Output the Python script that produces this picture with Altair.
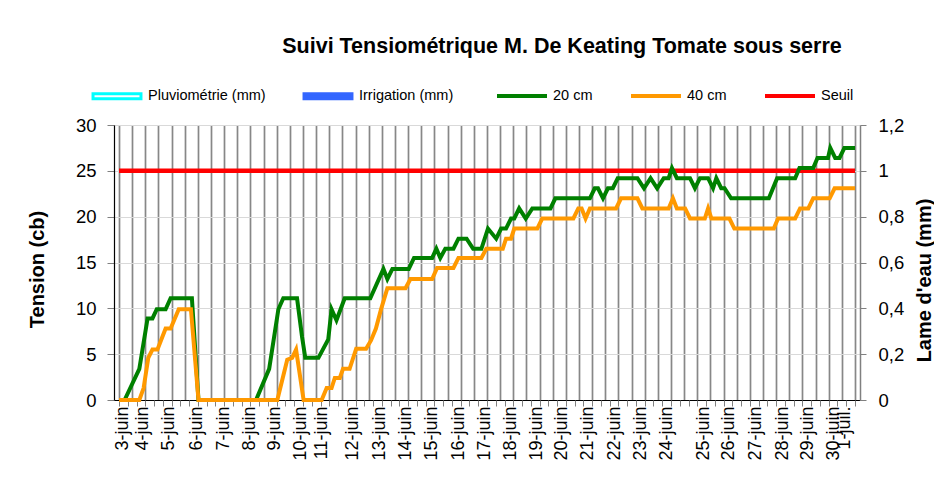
import json
import altair as alt
import pandas as pd

# ---- data (x = reading index along the category axis) ----
pos_20 = [0, 0.64, 2.32, 3.26, 3.82, 4.31, 5.32, 5.89, 8.32, 9.07, 15.64, 17.14, 18.19, 18.75,
          20.32, 20.89, 21.26, 22.76, 23.88, 24.26, 24.82, 25.76, 28.68, 30.18, 30.63, 31.2,
          33.07, 33.67, 35.74, 36.22, 36.67, 37.24, 38.17, 38.74, 39.67, 40.42, 41.36, 42.11,
          43.05, 43.61, 44.17, 44.74, 45.11, 45.67, 46.42, 47.17, 49.24, 49.8, 53.74, 54.3,
          54.67, 55.24, 55.8, 56.36, 56.92, 59.17, 59.92, 60.67, 61.42, 62.17, 62.73, 63.11,
          63.67, 65.17, 65.73, 66.3, 67.23, 67.8, 68.17, 68.73, 69.11, 69.86, 74.17, 75.11,
          77.17, 77.66, 79.23, 79.72, 80.92, 81.18, 81.74, 82.23, 82.79, 84]
tension_20 = [0, 0, 3.4, 8.9, 8.9, 9.9, 9.9, 11.1, 11.1, 0, 0, 3.4, 9.9, 11.1,
              11.1, 6.9, 4.6, 4.6, 6.6, 9.9, 8.7, 11.1, 11.1, 14.3, 13.2, 14.3,
              14.3, 15.5, 15.5, 16.5, 15.5, 16.5, 16.5, 17.6, 17.6, 16.5, 16.5, 18.7,
              17.6, 18.7, 18.7, 19.8, 19.8, 20.9, 19.8, 20.9, 20.9, 22.0, 22.0, 23.1,
              23.1, 22.0, 23.1, 23.1, 24.2, 24.2, 23.1, 24.2, 23.1, 24.2, 24.2, 25.3,
              24.2, 24.2, 23.1, 24.2, 24.2, 23.1, 24.2, 23.1, 23.1, 22.0, 22.0, 24.2,
              24.2, 25.3, 25.3, 26.4, 26.4, 27.5, 26.4, 26.4, 27.5, 27.5]

pos_40 = [0, 2.32, 2.81, 3.34, 3.82, 4.39, 5.32, 5.89, 6.82, 8.21, 9.07, 18.07, 19.2, 19.76,
          20.21, 21.07, 23.13, 23.7, 24.26, 24.63, 25.2, 25.57, 26.32, 27.07, 28.2, 28.76,
          29.32, 29.88, 30.63, 32.7, 33.26, 35.74, 36.3, 38.17, 38.74, 41.36, 41.92, 43.8,
          44.17, 44.74, 45.11, 47.74, 48.3, 51.86, 52.42, 52.8, 53.25, 53.74, 56.73, 57.3,
          59.17, 59.73, 62.73, 63.22, 63.67, 64.61, 65.17, 66.86, 67.23, 67.61, 69.67, 70.23,
          74.73, 75.22, 77.17, 77.73, 78.67, 79.23, 81.11, 81.67, 84]
tension_40 = [0, 0, 1.3, 4.6, 5.5, 5.5, 7.8, 7.8, 9.9, 9.9, 0, 0, 4.4, 4.6,
              5.5, 0, 0, 1.3, 1.3, 2.4, 2.4, 3.4, 3.4, 5.6, 5.6, 6.5,
              7.8, 9.8, 12.2, 12.2, 13.2, 13.2, 14.4, 14.4, 15.5, 15.5, 16.5, 16.5,
              17.6, 17.6, 18.7, 18.7, 19.8, 19.8, 20.9, 20.9, 19.8, 20.9, 20.9, 22.0,
              22.0, 20.9, 20.9, 22.0, 20.9, 20.9, 19.8, 19.8, 20.9, 19.8, 19.8, 18.7,
              18.7, 19.8, 19.8, 20.9, 20.9, 22.0, 22.0, 23.1, 23.1]

seuil_pos = [0, 84]
seuil_val = [25, 25]

date_labels = ["3-juin", "4-juin", "5-juin", "6-juin", "7-juin", "8-juin", "9-juin",
               "10-juin", "11-juin", "12-juin", "13-juin", "14-juin", "15-juin", "16-juin",
               "17-juin", "18-juin", "19-juin", "20-juin", "21-juin", "22-juin", "23-juin",
               "24-juin", "25-juin", "26-juin", "27-juin", "28-juin", "29-juin", "30-juin",
               "1-juil."]
date_pos = [0.4, 2.7, 5.7, 8.8, 11.9, 14.9, 17.8, 20.7, 23.1, 26.7, 29.7, 32.7, 35.7, 38.7,
            41.7, 44.7, 47.6, 50.5, 53.5, 56.5, 59.5, 62.5, 66.7, 69.6, 72.6, 75.7, 78.6,
            81.6, 82.8]

# rain / irrigation series: nothing recorded over the period
bar_series = ["Pluviométrie (mm)", "Irrigation (mm)"]
pluvio_pos, pluvio_mm = [], []
irrig_pos, irrig_mm = [], []

line_series = ["20 cm", "40 cm", "Seuil"]

# ---- tables ----
rows = []
for p, v in zip(pos_20, tension_20):
    rows.append({"pos": p, "tension": v, "serie": "20 cm"})
for p, v in zip(pos_40, tension_40):
    rows.append({"pos": p, "tension": v, "serie": "40 cm"})
for p, v in zip(seuil_pos, seuil_val):
    rows.append({"pos": p, "tension": v, "serie": "Seuil"})
lines_df = pd.DataFrame(rows)

bar_rows = []
for p, v in zip(pluvio_pos, pluvio_mm):
    bar_rows.append({"pos": p, "mm": v, "serie": bar_series[0]})
for p, v in zip(irrig_pos, irrig_mm):
    bar_rows.append({"pos": p, "mm": v, "serie": bar_series[1]})

FONT = "Liberation Sans"
N_CAT = 84

xscale = alt.Scale(domain=[0, N_CAT], nice=False, zero=False)
yscale = alt.Scale(domain=[0, 30], nice=False)
color_scale = alt.Scale(domain=line_series, range=["#008000", "#FF9900", "#FF0000"])

line_legend = alt.Legend(
    title=None, orient="none", legendX=381, legendY=-56, direction="horizontal",
    symbolType="stroke", symbolSize=2500, symbolStrokeWidth=4,
    labelFont=FONT, labelFontSize=14.5, labelColor="black",
    columnPadding=30, gridAlign="all", labelOffset=4,
)

label_expr = (json.dumps(date_labels, ensure_ascii=False) + "[indexof("
              + json.dumps(date_pos) + ", datum.value)]")

# grid axis (vertical gridlines)
grid_axis = alt.Axis(orient="bottom", values=[i * 1.5 for i in range(57)], grid=True,
                     gridColor="#878787", gridWidth=1.7, labels=False, ticks=False,
                     domain=False, title=None)
# label axis
label_axis = alt.Axis(orient="bottom", values=date_pos, labelExpr=label_expr, labelAngle=270,
                      labelFont=FONT, labelFontSize=18, labelColor="black", labelOverlap=False,
                      labelFlush=False, labelPadding=6, ticks=False, grid=False,
                      domain=True, domainColor="black", domainWidth=1.2, title=None)
# tick axis
tick_axis = alt.Axis(orient="bottom", values=list(range(N_CAT + 1)), ticks=True, tickSize=6,
                     tickColor="#808080", labels=False, grid=False, domain=False, title=None)

left_axis = alt.Axis(orient="left", values=[0, 5, 10, 15, 20, 25, 30], title="Tension (cb)",
                     titleFont=FONT, titleFontSize=20, titleFontWeight="bold", titleColor="black",
                     titlePadding=28, titleY=144, labelFont=FONT, labelFontSize=18.5,
                     labelColor="black", labelPadding=11, tickSize=7, tickColor="#808080",
                     domainColor="black", domainWidth=1.2, grid=True, gridColor="#D9D9D9",
                     gridWidth=1)

right_axis = alt.Axis(orient="right", values=[0, 0.2, 0.4, 0.6, 0.8, 1.0, 1.2],
                      labelExpr="replace(format(datum.value, '~g'), '.', ',')",
                      title="Lame d'eau (mm)", titleFont=FONT, titleFontSize=20,
                      titleFontWeight="bold", titleColor="black", titleAngle=270,
                      titlePadding=31, titleY=155, labelFont=FONT, labelFontSize=18.5,
                      labelColor="black", labelPadding=12, tickSize=6, tickColor="#808080",
                      domainColor="#808080", domainWidth=1.5, grid=False)

base = alt.Chart(lines_df)

seuil_layer = base.transform_filter(alt.datum.serie == "Seuil").mark_line(strokeWidth=4.5).encode(
    x=alt.X("pos:Q", scale=xscale, axis=grid_axis),
    y=alt.Y("tension:Q", scale=yscale, axis=left_axis),
    color=alt.Color("serie:N", scale=color_scale, legend=line_legend),
)

probe_layer = base.transform_filter(alt.datum.serie != "Seuil").mark_line(strokeWidth=4).encode(
    x=alt.X("pos:Q", scale=xscale, axis=label_axis),
    y=alt.Y("tension:Q", scale=yscale, axis=left_axis),
    color=alt.Color("serie:N", scale=color_scale, legend=line_legend),
    detail="serie:N",
)

left_group = alt.layer(seuil_layer, probe_layer).resolve_axis(x="independent")

bar_path = "M-0.94,-0.1H0.94V0.1H-0.94Z"
bar_legend = alt.Legend(
    title=None, orient="none", legendX=-24, legendY=-56, direction="horizontal",
    symbolType=bar_path, symbolSize=2601, symbolStrokeWidth=3,
    labelFont=FONT, labelFontSize=14.5, labelColor="black",
    columnPadding=32, labelOffset=4,
)

bars = alt.Chart(alt.Data(values=bar_rows)).mark_bar(strokeWidth=3).encode(
    x=alt.X("pos:Q", scale=xscale, axis=tick_axis),
    y=alt.Y("mm:Q", scale=alt.Scale(domain=[0, 1.2], nice=False), axis=right_axis),
    fill=alt.Fill("serie:N", scale=alt.Scale(domain=bar_series, range=["#FFFFFF", "#3366FF"]),
                  legend=bar_legend),
    stroke=alt.Stroke("serie:N", scale=alt.Scale(domain=bar_series, range=["#00FFFF", "#3366FF"]),
                      legend=bar_legend),
)

chart = alt.layer(left_group, bars).resolve_scale(
    y="independent", fill="independent", stroke="independent"
).resolve_axis(x="independent").properties(
    width=746, height=275,
    title=alt.TitleParams("Suivi Tensiométrique M. De Keating Tomate sous serre",
                          font=FONT, fontSize=21.5, fontWeight="bold", color="black",
                          anchor="middle", dx=75, offset=12),
    autosize=alt.AutoSizeParams(type="none"),
    padding={"left": 106, "top": 117, "right": 74, "bottom": 90},
).configure_view(stroke=None).configure(background="white")

chart.save("out.html", embed_options={"renderer": "svg", "actions": False})
